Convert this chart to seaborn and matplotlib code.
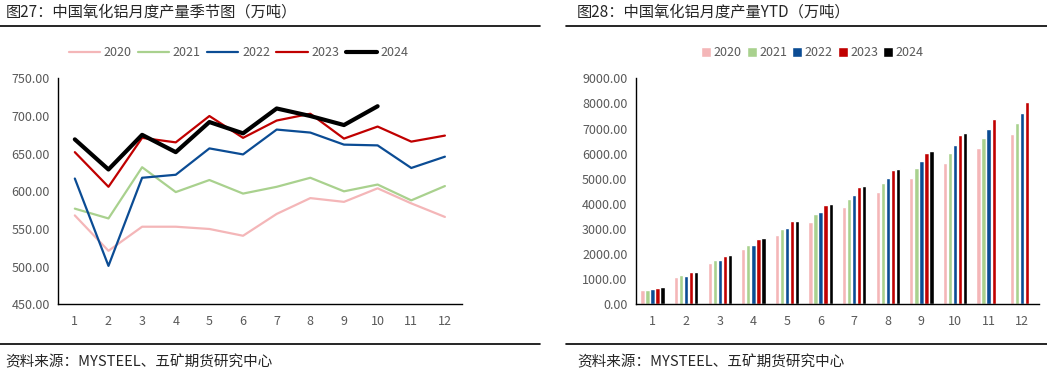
import matplotlib
matplotlib.use("Agg")
import matplotlib.pyplot as plt
from matplotlib.lines import Line2D
from matplotlib.patches import Patch
import seaborn as sns
import pandas as pd
import numpy as np

months = list(range(1, 13))
years = ["2020", "2021", "2022", "2023", "2024"]
colors = ["#F4B6B8", "#A9D18E", "#0B4C94", "#C00000", "#000000"]

# monthly output (10k t)
monthly_2020 = [568, 521, 553, 553, 550, 541, 570, 591, 586, 604, 584, 566]
monthly_2021 = [577, 564, 632, 599, 615, 597, 606, 618, 600, 609, 588, 607]
monthly_2022 = [617, 501, 618, 622, 657, 649, 682, 678, 662, 661, 631, 646]
monthly_2023 = [652, 606, 671, 665, 700, 671, 694, 703, 670, 686, 666, 674]
monthly_2024 = [669, 629, 675, 652, 692, 677, 710, 700, 688, 713, np.nan, np.nan]

# year-to-date output (10k t)
ytd_2020 = [569, 1088, 1646, 2203, 2761, 3279, 3876, 4473, 5031, 5628, 6225, 6783]
ytd_2021 = [575, 1160, 1765, 2363, 3000, 3597, 4195, 4832, 5429, 6026, 6624, 7221]
ytd_2022 = [620, 1118, 1745, 2363, 3040, 3677, 4354, 5031, 5708, 6345, 6982, 7619]
ytd_2023 = [660, 1270, 1925, 2602, 3318, 3956, 4672, 5349, 6026, 6743, 7380, 8057]
ytd_2024 = [685, 1280, 1964, 2641, 3318, 3995, 4712, 5389, 6106, 6823, np.nan, np.nan]

monthly = [monthly_2020, monthly_2021, monthly_2022, monthly_2023, monthly_2024]
ytd = [ytd_2020, ytd_2021, ytd_2022, ytd_2023, ytd_2024]

df_m = pd.DataFrame([(m, y, v) for y, vals in zip(years, monthly) for m, v in zip(months, vals)],
                    columns=["month", "year", "value"])
df_y = pd.DataFrame([(str(m), y, v) for y, vals in zip(years, ytd) for m, v in zip(months, vals)],
                    columns=["month", "year", "value"])

sns.set_style("white")
plt.rcParams["font.family"] = ["Noto Sans CJK SC", "DejaVu Sans"]
plt.rcParams["axes.unicode_minus"] = False

fig = plt.figure(figsize=(10.47, 3.71), dpi=100)
ax1 = fig.add_axes([0.0554, 0.1798, 0.3856, 0.609])
ax2 = fig.add_axes([0.6072, 0.1798, 0.3852, 0.609])

tick_color = "#595959"
palette = dict(zip(years, colors))

# ---- left: seasonal lines
widths = {"2020": 1.6, "2021": 1.6, "2022": 1.6, "2023": 1.6, "2024": 3.0}
for y in years:
    sub = df_m[df_m["year"] == y].dropna()
    sns.lineplot(data=sub, x="month", y="value", color=palette[y], lw=widths[y], ax=ax1, legend=False)
ax1.set_xlim(0.5, 12.5)
ax1.set_ylim(450, 750)
ax1.set_yticks(np.arange(450, 751, 50))
ax1.set_yticklabels([f"{v:.2f}" for v in np.arange(450, 751, 50)])
ax1.set_xticks(months)
ax1.set_xticks(np.arange(0.5, 12.6, 1), minor=True)
handles = [Line2D([0], [0], color=palette[y], lw=widths[y]) for y in years]
fig.legend(handles, years, loc="center", bbox_to_anchor=(0.228, 0.858), ncol=5, frameon=False,
           fontsize=9, handlelength=2.5, handletextpad=0.3, columnspacing=0.5, labelcolor=tick_color)

# ---- right: YTD bars
sns.barplot(data=df_y, x="month", y="value", hue="year", hue_order=years, palette=palette,
            order=[str(m) for m in months], width=0.75, gap=0.15, ax=ax2, legend=False,
            saturation=1)
ax2.set_xlim(-0.5, 11.5)
ax2.set_ylim(0, 9000)
ax2.set_yticks(np.arange(0, 9001, 1000))
ax2.set_yticklabels([f"{v:.2f}" for v in np.arange(0, 9001, 1000)])
ax2.set_xticks(np.arange(-0.5, 11.6, 1), minor=True)
handles = [Patch(facecolor=palette[y]) for y in years]
fig.legend(handles, years, loc="center", bbox_to_anchor=(0.776, 0.858), ncol=5, frameon=False,
           fontsize=9, handlelength=0.8, handleheight=0.8, handletextpad=0.2, columnspacing=0.4,
           labelcolor=tick_color)

for ax in (ax1, ax2):
    ax.set_xlabel("")
    ax.set_ylabel("")
    for s in ("top", "right"):
        ax.spines[s].set_visible(False)
    for s in ("left", "bottom"):
        ax.spines[s].set_color("black")
        ax.spines[s].set_linewidth(1.0)
    ax.tick_params(axis="y", which="major", length=4, width=1, color="black", direction="out",
                   labelsize=9, labelcolor=tick_color, pad=2)
    ax.tick_params(axis="x", which="major", length=0, labelsize=9, labelcolor=tick_color, pad=8)
    ax.tick_params(axis="x", which="minor", length=3, width=1, color="black", direction="out")
    ax.grid(False)

# titles, rules and source notes
fig.text(0.005, 0.968, "图27：中国氧化铝月度产量季节图（万吨）", fontsize=11, va="center", ha="left")
fig.text(0.551, 0.968, "图28：中国氧化铝月度产量YTD（万吨）", fontsize=11, va="center", ha="left")
fig.add_artist(Line2D([0.0, 0.516], [0.93, 0.93], color="black", lw=1.2))
fig.add_artist(Line2D([0.541, 1.0], [0.93, 0.93], color="black", lw=1.2))
fig.add_artist(Line2D([0.0, 0.516], [0.073, 0.073], color="black", lw=1.2))
fig.add_artist(Line2D([0.541, 1.0], [0.073, 0.073], color="black", lw=1.2))
fig.text(0.005, 0.024, "资料来源：MYSTEEL、五矿期货研究中心", fontsize=10.5, va="center", ha="left")
fig.text(0.551, 0.024, "资料来源：MYSTEEL、五矿期货研究中心", fontsize=10.5, va="center", ha="left")

fig.savefig("out.png", dpi=100)
